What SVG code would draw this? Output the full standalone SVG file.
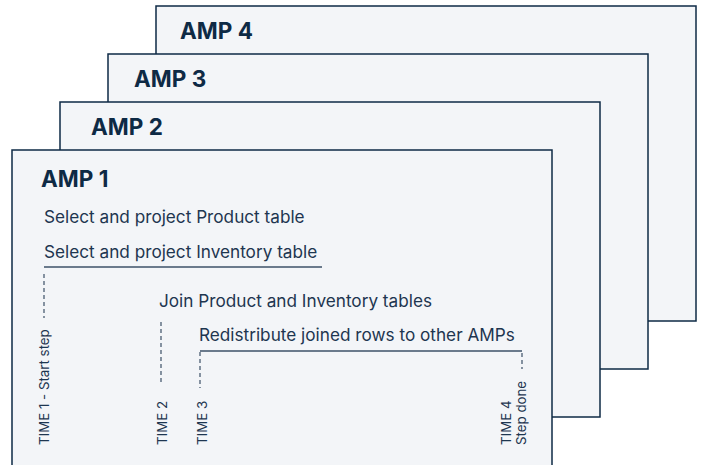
<svg xmlns="http://www.w3.org/2000/svg" width="702" height="465" viewBox="0 0 702 465">
  <style>
    .card { fill: #f3f5f8; stroke: #0e2a45; stroke-width: 1.5; }
    .title { font-family: Inter, "Liberation Sans", sans-serif; font-weight: 700; font-size: 22.5px; fill: #0e2a45; }
    .step { font-family: Inter, "Liberation Sans", sans-serif; font-size: 17.2px; fill: #1e3650; }
    .time { font-family: Inter, "Liberation Sans", sans-serif; font-size: 13.3px; fill: #1e3650; }
    .rule { stroke: #3d5068; stroke-width: 1.5; fill: none; }
    .tick { stroke: #3d5068; stroke-width: 1.2; stroke-dasharray: 4 3; fill: none; }
  </style>

  <!-- stacked AMP cards, back to front -->
  <g id="amp4">
    <rect class="card" x="156" y="6" width="540" height="315"/>
    <text class="title" x="180" y="39">AMP 4</text>
  </g>
  <g id="amp3">
    <rect class="card" x="108" y="54" width="540" height="315"/>
    <text class="title" x="134" y="87">AMP 3</text>
  </g>
  <g id="amp2">
    <rect class="card" x="60" y="102" width="540" height="315"/>
    <text class="title" x="91" y="135">AMP 2</text>
  </g>
  <g id="amp1">
    <rect class="card" x="12" y="150" width="540" height="320"/>
    <text class="title" x="41" y="187">AMP 1</text>
    <text class="step" x="44" y="223">Select and project Product table</text>
    <text class="step" x="44" y="258">Select and project Inventory table</text>
    <text class="step" x="159" y="307">Join Product and Inventory tables</text>
    <text class="step" x="199" y="341">Redistribute joined rows to other AMPs</text>

    <!-- time markers -->
    <text class="time" transform="translate(49,445) rotate(-90)">TIME 1 - Start step</text>
    <text class="time" transform="translate(167,445) rotate(-90)">TIME 2</text>
    <text class="time" transform="translate(207,445) rotate(-90)">TIME 3</text>
    <text class="time" transform="translate(511,445) rotate(-90)">TIME 4</text>
    <text class="time" transform="translate(526,445) rotate(-90)">Step done</text>
  </g>

  <g id="connectors">
    <line class="rule" x1="44" y1="267" x2="322" y2="267"/>
    <line class="rule" x1="200" y1="351" x2="522" y2="351"/>
    <line class="tick" x1="44" y1="274" x2="44" y2="318"/>
    <line class="tick" x1="161" y1="322" x2="161" y2="384"/>
    <line class="tick" x1="200" y1="352" x2="200" y2="388"/>
    <line class="tick" x1="522" y1="353" x2="522" y2="369"/>
  </g>
</svg>
